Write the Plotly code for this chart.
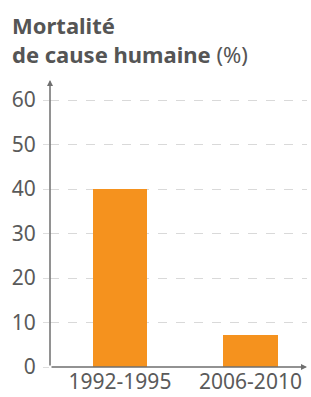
import plotly.graph_objects as go

categories = ["1992-1995", "2006-2010"]
values = [40, 7.2]
tick_vals = [0, 10, 20, 30, 40, 50, 60]

W, H = 311, 397
L, R, T, B = 50, 4, 80, 30
pw, ph = W - L - R, H - T - B

fig = go.Figure(go.Bar(
    x=categories, y=values, width=0.414,
    marker=dict(color="#F5921E", line=dict(width=0)),
))

font = "Noto Sans, Open Sans, sans-serif"
fig.update_layout(
    width=W, height=H,
    margin=dict(l=L, r=R, t=T, b=B, pad=0),
    plot_bgcolor="white", paper_bgcolor="white",
    showlegend=False,
    font=dict(family=font, color="#555555", size=21),
    bargap=0,
)
fig.update_xaxes(
    range=[-0.536, 1.433], showgrid=False, zeroline=False, showline=False,
    ticks="", tickfont=dict(size=21, color="#5a5a5a"), automargin=False,
)
fig.update_yaxes(
    range=[0, 64.5], tickvals=tick_vals, showgrid=True,
    gridcolor="#d9d9d9", griddash="dash", gridwidth=1,
    zeroline=False, showline=False, ticks="outside", ticklen=6,
    tickcolor="#dddddd", ticklabelstandoff=3, automargin=False,
    tickfont=dict(size=21, color="#5a5a5a"),
)
# axis arrows
fig.add_annotation(xref="x domain", yref="y domain", axref="x domain", ayref="y domain",
                   x=0, y=1.0, ax=0, ay=0, showarrow=True, arrowhead=2,
                   arrowsize=0.8, arrowwidth=1.5, arrowcolor="#6f6f6f", text="")
fig.add_annotation(xref="x domain", yref="y domain", axref="x domain", ayref="y domain",
                   x=1.0, y=0, ax=0, ay=0, showarrow=True, arrowhead=2,
                   arrowsize=0.8, arrowwidth=1.5, arrowcolor="#6f6f6f", text="")
# title
fig.add_annotation(xref="paper", yref="paper", x=(10 - L) / pw, y=(H - B - 8) / ph,
                   xanchor="left", yanchor="top", align="left", showarrow=False,
                   text="<b>Mortalité<br>de cause humaine</b> (%)",
                   font=dict(family=font, size=22, color="#555555"))

fig.write_html("out.html", config={"displayModeBar": False},
               post_script="document.body.style.margin='0';")
